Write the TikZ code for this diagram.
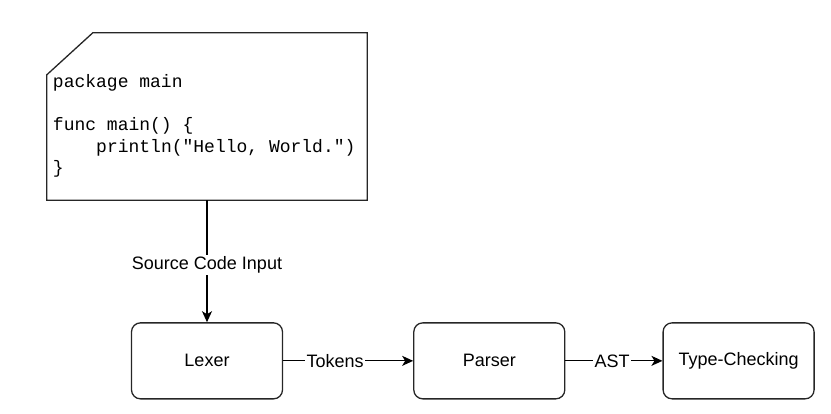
\documentclass[tikz,border=0pt]{standalone}
\usepackage{fontspec}
\setmainfont{Liberation Sans}
\setmonofont{Liberation Mono}
\usetikzlibrary{arrows.meta, positioning}

\begin{document}
\begin{tikzpicture}[
        node distance=130pt,
        stagebox/.style={rectangle, draw=black!85, line width=1.3pt, rounded corners=9pt, minimum width=151pt, minimum height=76pt, align=center, font=\fontsize{18}{21}\selectfont},
        edgelabel/.style={fill=white, inner sep=1.5pt, font=\fontsize{18}{21}\selectfont},
        arrow/.style={-{Stealth[length=11pt, width=10pt, inset=3pt]}, line width=1.2pt, draw=black}
    ]
    \useasboundingbox (-207pt,116.5pt) rectangle (624pt,-296.5pt);

    % Source card
    \node[minimum width=320pt, minimum height=167pt, inner sep=0pt] (card) at (0,0) {};
    \draw[line width=1.3pt, draw=black!85] (card.south west) -- ([yshift=-42pt]card.north west) -- ([xshift=46pt]card.north west) -- (card.north east) -- (card.south east) -- cycle;
    \node[anchor=west, inner sep=0pt, align=left, font=\ttfamily\fontsize{18}{21.5}\selectfont] (code) at ([xshift=6pt, yshift=-9.5pt]card.west)
        {package main\\[21.5pt]func main() \{\\\phantom{xxxx}println("Hello, World.")\\\}};

    % Pipeline stages
    \node[stagebox, below=122pt of card] (lexer) {Lexer};
    \node[stagebox, right=of lexer] (parser) {Parser};
    \node[stagebox, right=97pt of parser] (typecheck) {Type-Checking};

    % Arrows
    \draw[arrow] (card) -- node[edgelabel, pos=0.53] (srclabel) {Source Code Input} (lexer);
    \draw[arrow] (lexer) -- node[edgelabel, pos=0.4] (toklabel) {Tokens} (parser);
    \draw[arrow] (parser) -- node[edgelabel, pos=0.48] (astlabel) {AST} (typecheck);

    \end{tikzpicture}
\end{document}
